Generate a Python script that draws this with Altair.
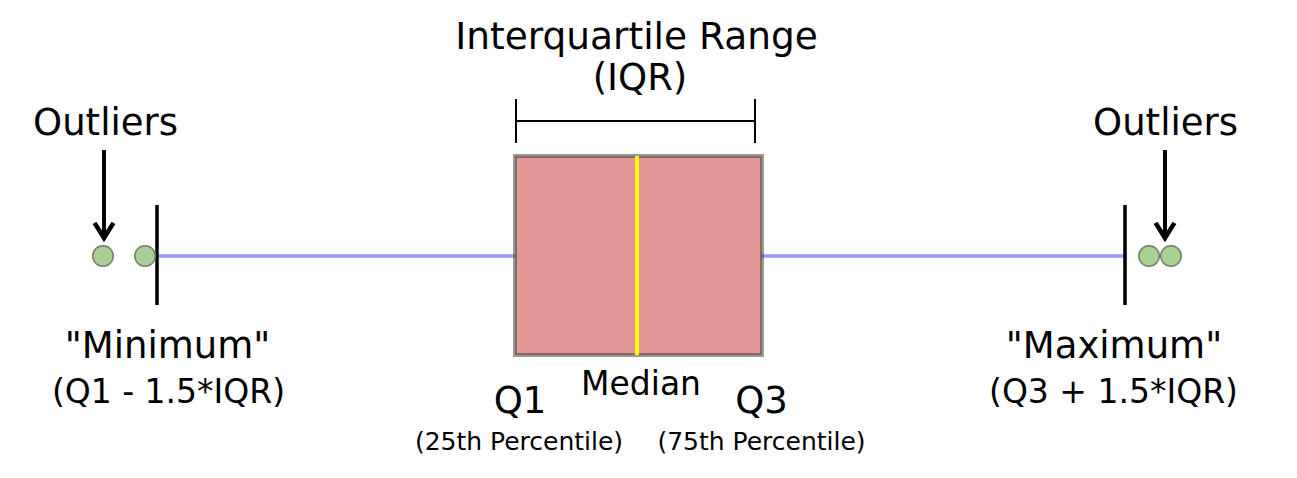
import altair as alt
import pandas as pd

# ---- diagram values (horizontal value axis / vertical layout axis) ----
q1 = 515
q3 = 762
median = 637
whisker_low = 157
whisker_high = 1125
center_y = 256
box_top = 156
box_bottom = 355
cap_top = 205
cap_bottom = 305
outliers_x = [103, 145, 1149, 1171]
iqr_left = 516
iqr_right = 755
iqr_y = 121
iqr_tick_top = 99
iqr_tick_bottom = 143
arrow_x = [104, 1165]
arrow_start = 150
arrow_tip = 238

label_text = ["Interquartile Range", "(IQR)", "Outliers", "Outliers",
              '"Minimum"', "(Q1 - 1.5*IQR)", '"Maximum"', "(Q3 + 1.5*IQR)",
              "Q1", "Median", "Q3", "(25th Percentile)", "(75th Percentile)"]
label_x = [636.5, 640, 105.5, 1165.5, 167.5, 168.5, 1114, 1113.5,
           520, 641, 761.5, 519, 761.5]
label_y = [49, 90, 135, 135, 358, 403, 358, 403, 413, 395, 413, 450, 450]
label_size = [37.5, 37, 37, 37, 37, 33, 37, 33, 37, 33, 37, 25, 25]

FONT = "DejaVu Sans"
W, H = 1281, 462
xs = alt.Scale(domain=[8, 8 + W], nice=False, zero=False)
ys = alt.Scale(domain=[8, 8 + H], nice=False, zero=False, reverse=True)


def X(f):
    return alt.X(f, type="quantitative", scale=xs, axis=None)


def Y(f):
    return alt.Y(f, type="quantitative", scale=ys, axis=None)


# whiskers
whisk = pd.DataFrame({"x": [whisker_low, q3], "x2": [q1, whisker_high],
                      "y": [center_y, center_y]})
whisker_layer = alt.Chart(whisk).mark_rule(color="#9999ff", strokeWidth=3.5).encode(
    x=X("x"), x2="x2", y=Y("y"))

# caps
caps = pd.DataFrame({"x": [whisker_low, whisker_high], "y": [cap_top, cap_top],
                     "y2": [cap_bottom, cap_bottom]})
cap_layer = alt.Chart(caps).mark_rule(color="black", strokeWidth=3.5).encode(
    x=X("x"), y=Y("y"), y2="y2")

# box
box = pd.DataFrame({"x": [q1], "x2": [q3], "y": [box_top], "y2": [box_bottom]})
box_layer = alt.Chart(box).mark_rect(
    fill="#e39898", stroke="#333333", strokeOpacity=0.5, strokeWidth=4).encode(
    x=X("x"), x2="x2", y=Y("y"), y2="y2")

# median
med = pd.DataFrame({"x": [median], "y": [box_top], "y2": [box_bottom]})
median_layer = alt.Chart(med).mark_rule(color="#ffff00", strokeWidth=4).encode(
    x=X("x"), y=Y("y"), y2="y2")

# outliers
out = pd.DataFrame({"x": outliers_x, "y": [center_y] * len(outliers_x)})
outlier_layer = alt.Chart(out).mark_point(
    shape="circle", filled=True, size=420, fill="#a8cf94", fillOpacity=1,
    stroke="#6f7f68", strokeWidth=1.5, opacity=1).encode(x=X("x"), y=Y("y"))

# IQR bracket
brh = pd.DataFrame({"x": [iqr_left], "x2": [iqr_right], "y": [iqr_y]})
bracket_h = alt.Chart(brh).mark_rule(color="black", strokeWidth=2).encode(
    x=X("x"), x2="x2", y=Y("y"))
brv = pd.DataFrame({"x": [iqr_left, iqr_right], "y": [iqr_tick_top] * 2,
                    "y2": [iqr_tick_bottom] * 2})
bracket_v = alt.Chart(brv).mark_rule(color="black", strokeWidth=2).encode(
    x=X("x"), y=Y("y"), y2="y2")

# arrows
arr = pd.DataFrame({"x": arrow_x, "y": [arrow_start] * 2, "y2": [arrow_tip - 2] * 2})
arrow_shaft = alt.Chart(arr).mark_rule(color="black", strokeWidth=4).encode(
    x=X("x"), y=Y("y"), y2="y2")
heads = pd.DataFrame({"x": arrow_x, "y": [arrow_tip] * 2})
arrow_head = alt.Chart(heads).mark_point(
    shape="M -1 -1.6 L 0 0 L 1 -1.6", filled=False, size=360, stroke="black",
    strokeWidth=4.5, opacity=1, strokeJoin="miter").encode(x=X("x"), y=Y("y"))

# labels
lab = pd.DataFrame({"t": label_text, "x": label_x, "y": label_y, "s": label_size})
text_layer = alt.Chart(lab).mark_text(
    font=FONT, color="black", align="center", baseline="alphabetic").encode(
    x=X("x"), y=Y("y"), text="t:N", size=alt.Size("s:Q", scale=None, legend=None))

chart = alt.layer(
    whisker_layer, cap_layer, box_layer, median_layer, outlier_layer,
    bracket_h, bracket_v, arrow_shaft, arrow_head, text_layer
).properties(
    width=W, height=H, padding=0, autosize=alt.AutoSizeParams(type="none")
).configure_view(strokeWidth=0)

chart.save("out.html", embed_options={"renderer": "svg", "actions": False})
